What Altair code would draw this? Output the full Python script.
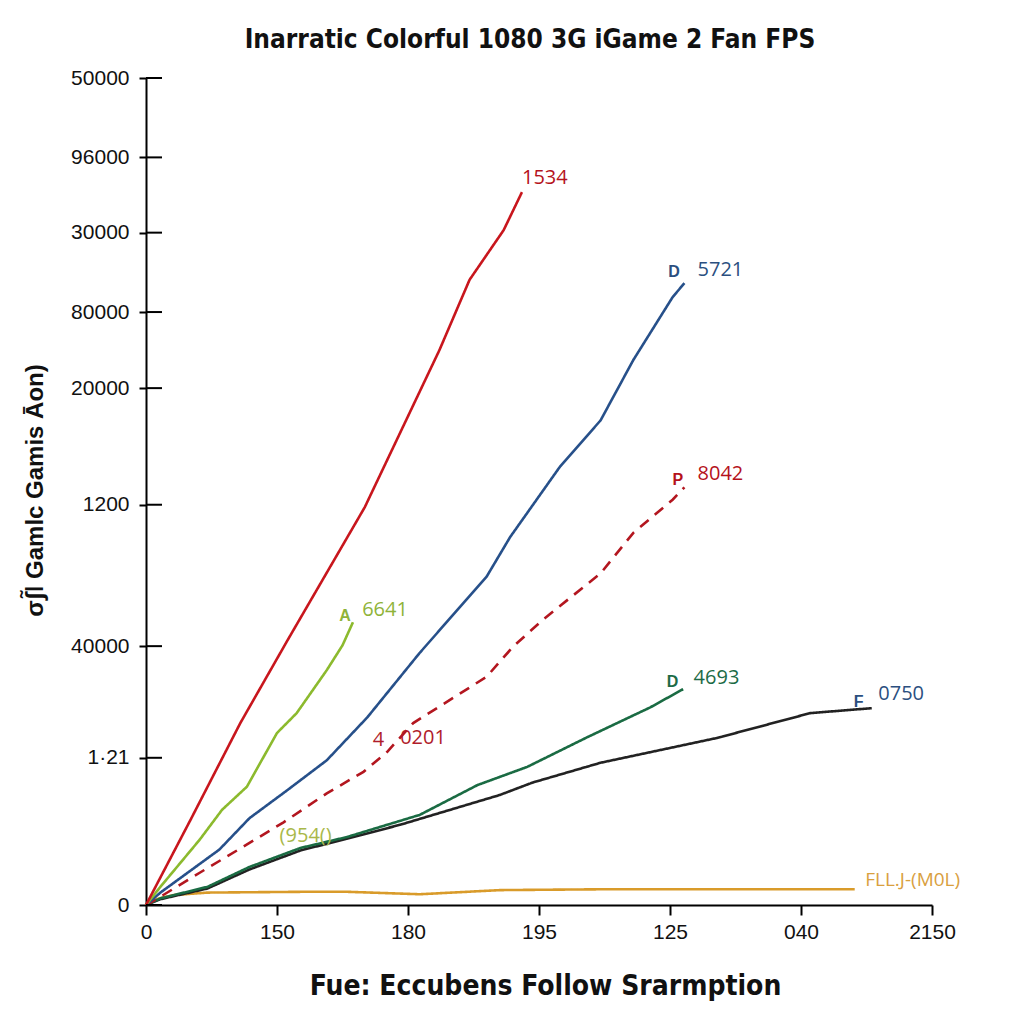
import altair as alt
import pandas as pd

TITLE = "Inarratic Colorful 1080 3G iGame 2 Fan FPS"
X_TITLE = "Fue: Eccubens Follow Srarmption"
Y_TITLE = "σʃ̃ǀ Gamlc Gamis Āon)"

NARROW = "Liberation Sans Narrow, DejaVu Sans Condensed, Arial Narrow, sans-serif"
SANS = "Liberation Sans, Arial, sans-serif"
NUMF = "Open Sans, Liberation Sans, sans-serif"

# axis ticks (positions in chart units) and their printed labels
x_tick_pos = [0, 1, 2, 3, 4, 5, 6]
x_tick_labels = ["0", "150", "180", "195", "125", "040", "2150"]
y_tick_pos = [0, 17.8, 31.3, 48.4, 62.5, 71.7, 81.3, 90.4, 100]
y_tick_labels = ["0", "1·21", "40000", "1200", "20000", "80000", "30000", "96000", "50000"]

# series (drawing order: first drawn at the bottom)
series_names = ["FLL", "0750", "4693", "8042", "5721", "6641", "1534"]
series_colors = ["#d99b2a", "#222222", "#1a6b43", "#b3161f", "#27508a", "#8cba2e", "#c8161d"]
series_dash = [[1, 0], [1, 0], [1, 0], [11, 8], [1, 0], [1, 0], [1, 0]]

red_x = [0, 0.34, 0.72, 1.08, 1.67, 2.24, 2.47, 2.73, 2.87]
red_y = [0, 10.3, 22.0, 32.0, 48.1, 67.1, 75.6, 81.6, 86.2]

blue_x = [0, 0.11, 0.56, 0.79, 1.08, 1.38, 1.69, 2.09, 2.60, 2.78, 3.16, 3.47, 3.72, 4.02, 4.11]
blue_y = [0, 1.5, 6.7, 10.5, 13.9, 17.5, 22.7, 30.5, 39.7, 44.5, 53.0, 58.6, 65.9, 73.5, 75.2]

lime_x = [0, 0.11, 0.41, 0.58, 0.77, 1.00, 1.15, 1.38, 1.50, 1.58]
lime_y = [0, 2.2, 7.9, 11.5, 14.3, 20.8, 23.2, 28.4, 31.4, 34.2]

dash_x = [0, 0.11, 0.41, 0.79, 1.05, 1.38, 1.66, 1.84, 2.04, 2.60, 2.80, 3.03, 3.47, 3.72, 4.02, 4.11]
dash_y = [0, 1.0, 3.9, 7.5, 10.0, 13.5, 16.1, 18.5, 22.0, 27.6, 31.2, 34.5, 40.1, 45.0, 49.0, 50.5]

green_x = [0, 0.11, 0.47, 0.79, 1.18, 1.53, 2.09, 2.53, 2.91, 3.37, 3.85, 4.10]
green_y = [0, 0.8, 2.2, 4.6, 6.9, 8.2, 10.9, 14.5, 16.7, 20.3, 23.9, 26.1]

black_x = [0, 0.11, 0.47, 0.79, 1.18, 1.53, 1.94, 2.70, 2.95, 3.47, 4.36, 5.07, 5.54]
black_y = [0, 0.7, 2.0, 4.3, 6.6, 8.0, 9.7, 13.3, 14.8, 17.2, 20.2, 23.2, 23.8]

orange_x = [0, 0.05, 0.21, 0.47, 1.23, 1.53, 2.09, 2.70, 3.47, 5.41]
orange_y = [0, 0.6, 1.2, 1.5, 1.6, 1.6, 1.3, 1.8, 1.9, 1.9]

# annotations
num_text = ["1534", "5721", "8042", "6641", "4", "0201", "(954()", "4693", "0750"]
num_x = [2.87, 4.21, 4.21, 1.65, 1.73, 1.94, 1.02, 4.18, 5.59]
num_y = [87.9, 76.8, 52.1, 35.7, 19.9, 20.2, 8.3, 27.4, 25.5]
num_color = ["#b5121b", "#2b4f7f", "#b5121b", "#8fb339", "#b01c2a", "#b01c2a", "#a9b84a", "#1c6b46", "#2b4f7f"]

letter_text = ["D", "P", "A", "D", "F"]
letter_x = [4.03, 4.06, 1.52, 4.02, 5.44]
letter_y = [76.5, 51.4, 34.9, 27.0, 24.5]
letter_color = ["#2b4f7f", "#b5121b", "#8fb339", "#1c6b46", "#2b4f7f"]

fll_text = ["FLL.J-(M0L)"]
fll_x = [5.49]
fll_y = [3.0]
fll_color = ["#d9a03f"]

rows = []
for name, xs, ys in [
    ("FLL", orange_x, orange_y), ("0750", black_x, black_y), ("4693", green_x, green_y),
    ("8042", dash_x, dash_y), ("5721", blue_x, blue_y), ("6641", lime_x, lime_y),
    ("1534", red_x, red_y),
]:
    for i, (a, b) in enumerate(zip(xs, ys)):
        rows.append({"series": name, "x": a, "y": b, "i": i})
lines_df = pd.DataFrame(rows)

num_df = pd.DataFrame({"t": num_text, "x": num_x, "y": num_y, "c": num_color})
let_df = pd.DataFrame({"t": letter_text, "x": letter_x, "y": letter_y, "c": letter_color})
fll_df = pd.DataFrame({"t": fll_text, "x": fll_x, "y": fll_y, "c": fll_color})
tick_df = pd.DataFrame({"y": y_tick_pos, "x0": [0] * len(y_tick_pos), "x1": [0.122] * len(y_tick_pos)})

x_expr = "[" + ",".join("'%s'" % s for s in x_tick_labels) + "][datum.value]"
y_expr = ("[" + ",".join("'%s'" % s for s in y_tick_labels) + "][indexof(["
          + ",".join(str(v) for v in y_tick_pos) + "], datum.value)]")

xscale = alt.Scale(domain=[0, 6], nice=False, zero=False)
yscale = alt.Scale(domain=[0, 100], nice=False, zero=False)

x_axis = alt.Axis(
    values=x_tick_pos, labelExpr=x_expr, grid=False, title=X_TITLE,
    domainColor="black", domainWidth=2, tickColor="black", tickWidth=2, tickSize=10,
    labelFont=SANS, labelFontSize=21, labelColor="#111", labelPadding=6,
    labelFlush=False, labelOverlap=False,
    titleFont=NARROW, titleFontSize=28, titleFontWeight="bold", titleColor="#111",
    titleX=399, titleY=89, titleAlign="center", titleBaseline="alphabetic",
)
y_axis = alt.Axis(
    values=y_tick_pos, labelExpr=y_expr, grid=False, title=Y_TITLE,
    domainColor="black", domainWidth=2, tickColor="black", tickWidth=2, tickSize=7,
    labelFont=SANS, labelFontSize=21, labelColor="#111", labelPadding=10,
    labelFlush=False, labelOverlap=False,
    titleFont=SANS, titleFontSize=24, titleFontWeight="bold", titleColor="#111",
    titleX=-111, titleY=412, titleAngle=270, titleAlign="center", titleBaseline="middle",
)

lines = alt.Chart(lines_df).mark_line(strokeWidth=2.6).encode(
    x=alt.X("x:Q", scale=xscale, axis=x_axis),
    y=alt.Y("y:Q", scale=yscale, axis=y_axis),
    color=alt.Color("series:N", scale=alt.Scale(domain=series_names, range=series_colors), legend=None),
    strokeDash=alt.StrokeDash("series:N", scale=alt.Scale(domain=series_names, range=series_dash), legend=None),
    detail="series:N",
    order="i:Q",
)

inner_ticks = alt.Chart(tick_df).mark_rule(color="black", strokeWidth=2).encode(
    x="x0:Q", x2="x1:Q", y="y:Q"
)

nums = alt.Chart(num_df).mark_text(align="left", baseline="middle", font=NUMF, fontSize=20).encode(
    x="x:Q", y="y:Q", text="t:N", color=alt.Color("c:N", scale=None)
)
letters = alt.Chart(let_df).mark_text(align="center", baseline="middle", font=SANS, fontSize=16,
                                       fontWeight="bold").encode(
    x="x:Q", y="y:Q", text="t:N", color=alt.Color("c:N", scale=None)
)
fll = alt.Chart(fll_df).mark_text(align="left", baseline="middle", font=NUMF, fontSize=19).encode(
    x="x:Q", y="y:Q", text="t:N", color=alt.Color("c:N", scale=None)
)

chart = alt.layer(lines, inner_ticks, nums, letters, fll).properties(
    width=786, height=827,
    title=alt.TitleParams(TITLE, font=NARROW, fontSize=26, fontWeight="bold", color="#111",
                          anchor="middle", offset=14, dx=-9),
    autosize=alt.AutoSizeParams(type="none"),
    padding={"left": 138, "top": 70, "right": 80, "bottom": 100},
).configure(background="white").configure_view(stroke=None, strokeWidth=0)

chart.save("out.html", embed_options={"renderer": "svg", "actions": False})
